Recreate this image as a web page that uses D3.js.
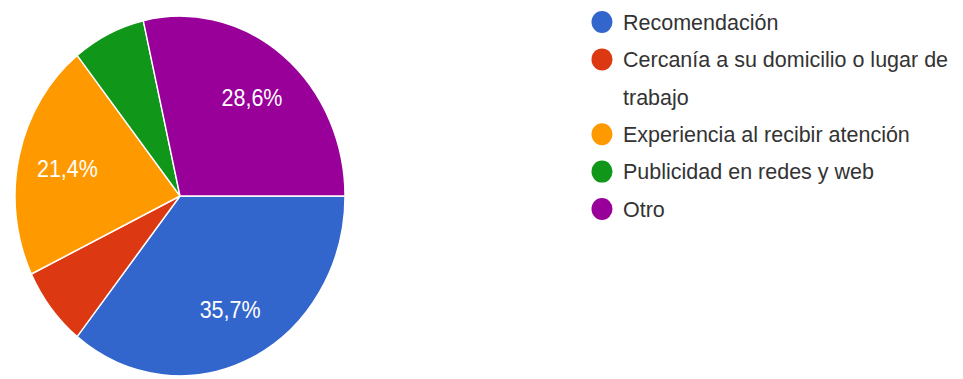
<!DOCTYPE html>
<html>
<head>
<meta charset="utf-8">
<script src="https://cdn.jsdelivr.net/npm/d3@7"></script>
<style>
  html, body { margin: 0; padding: 0; background: #ffffff; }
  svg { display: block; }
</style>
</head>
<body>
<svg id="chart" width="963" height="379"></svg>
<script>
// Survey answers: number of respondents per reason (14 in total)
const categories = [
  "Recomendación",
  "Cercanía a su domicilio o lugar de trabajo",
  "Experiencia al recibir atención",
  "Publicidad en redes y web",
  "Otro"
];
const counts = [5, 1, 3, 1, 4];
const colors = ["#3366cc", "#dc3912", "#ff9900", "#109618", "#990099"];

const width = 963, height = 379;
const cx = 180, cy = 196;         // pie centre
const radius = 165;               // horizontal radius
const yStretch = 1.09;            // the pie is drawn slightly taller than wide
const labelFont = "'Liberation Sans', Arial, sans-serif";

const svg = d3.select("#chart");
const total = d3.sum(counts);
const fmt = v => (v / total * 100).toFixed(1).replace(".", ",") + "%";

const data = categories.map((c, i) => ({ name: c, value: counts[i], color: colors[i] }));

// slices start at 3 o'clock and run clockwise
const pie = d3.pie()
  .value(d => d.value)
  .sort(null)
  .startAngle(Math.PI / 2)
  .endAngle(Math.PI / 2 + 2 * Math.PI);

const arcs = pie(data);
const arc = d3.arc().innerRadius(0).outerRadius(radius);
const labelArc = d3.arc().innerRadius(radius * 0.70).outerRadius(radius * 0.70);

const pieG = svg.append("g")
  .attr("transform", `translate(${cx},${cy}) scale(1,${yStretch})`);

pieG.selectAll("path")
  .data(arcs)
  .join("path")
  .attr("d", arc)
  .attr("fill", d => d.data.color)
  .attr("stroke", "#ffffff")
  .attr("stroke-width", 1.4)
  .attr("stroke-linejoin", "round");

// percentage labels only on slices wide enough to hold them
svg.append("g")
  .selectAll("text")
  .data(arcs.filter(d => d.data.value / total > 0.1))
  .join("text")
  .attr("transform", d => {
    const [x, y] = labelArc.centroid(d);
    return `translate(${cx + x},${cy + y * yStretch}) scale(1,1.12)`;
  })
  .attr("text-anchor", "middle")
  .attr("dy", "0.36em")
  .attr("fill", "#ffffff")
  .attr("font-family", labelFont)
  .attr("font-size", 21.5)
  .text(d => fmt(d.data.value));

// legend
const legendX = 602, legendTop = 22, linePitch = 37.4, textX = 623, maxTextWidth = 338;
const legend = svg.append("g")
  .attr("font-family", labelFont)
  .attr("font-size", 21.5)
  .attr("fill", "#333333");

let line = 0;
data.forEach(d => {
  const y0 = legendTop + line * linePitch;
  legend.append("ellipse")
    .attr("cx", legendX)
    .attr("cy", y0)
    .attr("rx", 10.5)
    .attr("ry", 11)
    .attr("fill", d.color);

  const text = legend.append("text");

  // wrap words onto extra lines when they run past the right edge
  const words = d.name.split(" ");
  let current = [];
  const newLine = k => text.append("tspan")
    .attr("x", textX)
    .attr("y", y0 + k * linePitch)
    .attr("dy", "0.36em");
  let tspan = newLine(0);
  let lines = 1;
  words.forEach(w => {
    current.push(w);
    tspan.text(current.join(" "));
    if (tspan.node().getComputedTextLength() > maxTextWidth && current.length > 1) {
      current.pop();
      tspan.text(current.join(" "));
      current = [w];
      tspan = newLine(lines).text(w);
      lines += 1;
    }
  });
  line += lines;
});
</script>
</body>
</html>
